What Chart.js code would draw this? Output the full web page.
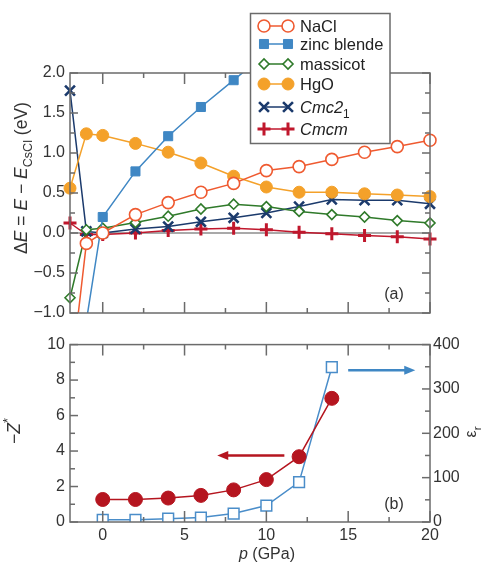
<!DOCTYPE html>
<html>
<head>
<meta charset="utf-8">
<script src="https://cdn.jsdelivr.net/npm/chart.js@4/dist/chart.umd.min.js"></script>
<style>
    body { margin: 0; background: #fff; }
    #wrap { position: relative; width: 486px; height: 562px; background: #fff; }
    canvas { position: absolute; left: 0; }
</style>
</head>
<body>
<div id="wrap">
    <canvas id="chartA" width="486" height="330" style="top:0px"></canvas>
    <canvas id="chartB" width="486" height="232" style="top:330px"></canvas>
</div>
<script>
// panel (a): energy differences vs pressure
var pressureA = [-2, -1, 0, 2, 4, 6, 8, 10, 12, 14, 16, 18, 20];
var nacl      = [-1.9, -0.13, 0.0, 0.23, 0.38, 0.51, 0.62, 0.78, 0.83, 0.92, 1.01, 1.08, 1.16];
var zincBlende = [null, -1.1, 0.2, 0.77, 1.21, 1.575, 1.91, 2.25, null, null, null, null, null];
var massicot  = [-0.81, 0.04, 0.06, 0.13, 0.21, 0.30, 0.36, 0.33, 0.27, 0.23, 0.20, 0.155, 0.125];
var hgo       = [0.56, 1.24, 1.22, 1.12, 1.01, 0.875, 0.71, 0.575, 0.51, 0.51, 0.49, 0.475, 0.455];
var cmc21     = [1.78, 0.02, 0.0, 0.05, 0.08, 0.14, 0.19, 0.25, 0.33, 0.42, 0.41, 0.41, 0.365];
var cmcm      = [0.125, -0.02, -0.02, 0.0, 0.03, 0.05, 0.06, 0.04, 0.01, -0.01, -0.03, -0.046, -0.075];
var yTicksA = [-1, -0.5, 0, 0.5, 1, 1.5, 2];

// panel (b): Born charge and dielectric constant
var pressureB = [0, 2, 4, 6, 8, 10, 12, 14];
var zStar = [1.27, 1.27, 1.35, 1.5, 1.81, 2.39, 3.68, 6.97];
var epsR  = [5, 5, 7.5, 10, 19, 37, 90, 349];
var yTicksB = [0, 2, 4, 6, 8, 10];
var y2TicksB = [0, 100, 200, 300, 400];
var xTicks = [0, 5, 10, 15, 20];
// arrows: [x from, x to, y]
var arrowZ = [11.1, 7.0, 3.75];
var arrowEps = [15.0, 19.1, 342];

var FONT = '"Liberation Sans", Arial, Helvetica, sans-serif';
Chart.defaults.font.family = FONT;
Chart.defaults.font.size = 16;
Chart.defaults.color = '#333';

var FRAME = '#6b6b6b';

function pts(xs, ys) {
    return xs.map(function (x, i) { return { x: x, y: ys[i] }; });
}

function fmt1(v) {
    var s = Math.abs(v).toFixed(1);
    return v < 0 ? '\u2212' + s : s;
}

function setTicks(list) {
    return function (scale) {
        scale.ticks = list.map(function (v) { return { value: v }; });
    };
}

// rich text: parts = [[text, style]], style '', 'i', 'sub', 'sup'
function richDraw(ctx, parts, x, y, size, doDraw) {
    var cx = x;
    parts.forEach(function (p) {
        var st = p[1];
        var sz = size, dy = 0, it = '';
        if (st.indexOf('sub') >= 0) { sz = size * 0.72; dy = size * 0.3; }
        if (st.indexOf('sup') >= 0) { sz = size * 0.72; dy = -size * 0.45; }
        if (st.indexOf('i') === 0) it = 'italic ';
        ctx.font = it + sz + 'px ' + FONT;
        if (doDraw) ctx.fillText(p[0], cx, y + dy);
        cx += ctx.measureText(p[0]).width;
    });
    return cx - x;
}

function richCentered(ctx, parts, x, y, size, rot) {
    ctx.save();
    ctx.translate(x, y);
    if (rot) ctx.rotate(rot);
    ctx.textAlign = 'left';
    ctx.textBaseline = 'alphabetic';
    var w = richDraw(ctx, parts, 0, 0, size, false);
    richDraw(ctx, parts, -w / 2, 0, size, true);
    ctx.restore();
}

function tickMarks(ctx, area, scale, values, len, horizontal, sides) {
    values.forEach(function (v) {
        var p = scale.getPixelForValue(v);
        ctx.beginPath();
        if (horizontal) {
            if (sides.indexOf('b') >= 0) { ctx.moveTo(p, area.bottom); ctx.lineTo(p, area.bottom - len); }
            if (sides.indexOf('t') >= 0) { ctx.moveTo(p, area.top); ctx.lineTo(p, area.top + len); }
        } else {
            if (sides.indexOf('l') >= 0) { ctx.moveTo(area.left, p); ctx.lineTo(area.left + len, p); }
            if (sides.indexOf('r') >= 0) { ctx.moveTo(area.right, p); ctx.lineTo(area.right - len, p); }
        }
        ctx.stroke();
    });
}

function drawFrame(chart, minorX) {
    var ctx = chart.ctx, a = chart.chartArea;
    ctx.save();
    ctx.strokeStyle = FRAME;
    ctx.lineWidth = 1.5;
    ctx.strokeRect(a.left, a.top, a.right - a.left, a.bottom - a.top);
    tickMarks(ctx, a, chart.scales.x, xTicks, 11, true, 'tb');
    tickMarks(ctx, a, chart.scales.x, minorX, 5, true, 'tb');
    ctx.restore();
}

function arrow(ctx, x1, x2, y, color) {
    var dir = x2 > x1 ? 1 : -1;
    ctx.save();
    ctx.strokeStyle = color;
    ctx.fillStyle = color;
    ctx.lineWidth = 2.5;
    ctx.beginPath();
    ctx.moveTo(x1, y);
    ctx.lineTo(x2 - dir * 8, y);
    ctx.stroke();
    ctx.beginPath();
    ctx.moveTo(x2, y);
    ctx.lineTo(x2 - dir * 11, y - 4.5);
    ctx.lineTo(x2 - dir * 11, y + 4.5);
    ctx.closePath();
    ctx.fill();
    ctx.restore();
}

var panelA = {
    id: 'panelA',
    beforeDatasetsDraw: function (chart) {
        var ctx = chart.ctx, a = chart.chartArea;
        var y0 = chart.scales.y.getPixelForValue(0);
        ctx.save();
        ctx.strokeStyle = '#8c8c8c';
        ctx.lineWidth = 1.5;
        ctx.beginPath();
        ctx.moveTo(a.left, y0);
        ctx.lineTo(a.right, y0);
        ctx.stroke();
        ctx.restore();
    },
    afterDraw: function (chart) {
        var ctx = chart.ctx, a = chart.chartArea;
        drawFrame(chart, [2.5, 7.5, 12.5, 17.5]);
        ctx.save();
        ctx.strokeStyle = FRAME;
        ctx.lineWidth = 1.5;
        tickMarks(ctx, a, chart.scales.y, yTicksA, 8, false, 'lr');
        tickMarks(ctx, a, chart.scales.y, [-0.75, -0.25, 0.25, 0.75, 1.25, 1.75], 5, false, 'lr');
        ctx.restore();

        ctx.fillStyle = '#333';
        richCentered(ctx, [['\u0394', ''], ['E', 'i'], [' = ', ''], ['E', 'i'], [' \u2212 ', ''],
            ['E', 'i'], ['CsCl', 'sub'], [' (eV)', '']], 27, 178, 17.5, -Math.PI / 2);
        richCentered(ctx, [['(a)', '']], 394, 299, 16, 0);

        // legend box
        var lx = 250.5, ly = 13.5, lw = 139.5, lh = 130;
        ctx.save();
        ctx.fillStyle = '#fff';
        ctx.fillRect(lx, ly, lw, lh);
        ctx.strokeStyle = FRAME;
        ctx.lineWidth = 1.5;
        ctx.strokeRect(lx, ly, lw, lh);
        var rows = [26, 44, 64, 84, 107, 129];
        chart.data.datasets.forEach(function (ds, i) {
            var y = rows[i];
            ctx.strokeStyle = ds.borderColor;
            ctx.lineWidth = ds.borderWidth;
            ctx.beginPath();
            ctx.moveTo(264, y);
            ctx.lineTo(288, y);
            ctx.stroke();
            [264, 288].forEach(function (mx) {
                ctx.fillStyle = ds.pointBackgroundColor;
                ctx.strokeStyle = ds.borderColor;
                ctx.lineWidth = ds.pointBorderWidth;
                Chart.helpers.drawPoint(ctx, {
                    pointStyle: ds.pointStyle, rotation: 0,
                    radius: ds.pointRadius, borderWidth: ds.pointBorderWidth
                }, mx, y);
            });
            ctx.fillStyle = '#222';
            ctx.textBaseline = 'alphabetic';
            ctx.textAlign = 'left';
            var parts = ds.richLabel || [[ds.label, '']];
            richDraw(ctx, parts, 300, y + 6, 16.5, true);
        });
        ctx.restore();
    }
};

var panelB = {
    id: 'panelB',
    afterDraw: function (chart) {
        var ctx = chart.ctx, a = chart.chartArea;
        drawFrame(chart, [2.5, 7.5, 12.5, 17.5]);
        ctx.save();
        ctx.strokeStyle = FRAME;
        ctx.lineWidth = 1.5;
        tickMarks(ctx, a, chart.scales.y, yTicksB, 8, false, 'l');
        tickMarks(ctx, a, chart.scales.y, [1, 3, 5, 7, 9], 5, false, 'l');
        tickMarks(ctx, a, chart.scales.y2, y2TicksB, 8, false, 'r');
        tickMarks(ctx, a, chart.scales.y2, [50, 150, 250, 350], 5, false, 'r');
        ctx.restore();

        var sx = chart.scales.x, sy = chart.scales.y, sy2 = chart.scales.y2;
        arrow(ctx, sx.getPixelForValue(arrowZ[0]), sx.getPixelForValue(arrowZ[1]),
            sy.getPixelForValue(arrowZ[2]), '#b5151f');
        arrow(ctx, sx.getPixelForValue(arrowEps[0]), sx.getPixelForValue(arrowEps[1]),
            sy2.getPixelForValue(arrowEps[2]), '#3f87c4');

        ctx.fillStyle = '#333';
        richCentered(ctx, [['\u2212', ''], ['Z', 'i'], ['*', 'sup']], 20, 101, 17.5, -Math.PI / 2);
        richCentered(ctx, [['\u03b5', ''], ['r', 'sub']], 476, 102, 16, -Math.PI / 2);
        richCentered(ctx, [['p', 'i'], [' (GPa)', '']], 267, 229, 16, 0);
        richCentered(ctx, [['(b)', '']], 394, 179, 16, 0);
    }
};

var ctxA = document.getElementById('chartA').getContext('2d');
var chartA = new Chart(ctxA, {
    type: 'line',
    data: {
        datasets: [{
            label: 'NaCl',
            data: pts(pressureA, nacl),
            borderColor: '#ef5a30', pointBackgroundColor: '#fff',
            borderWidth: 1.5, pointBorderWidth: 1.6,
            pointStyle: 'circle', pointRadius: 6
        }, {
            label: 'zinc blende',
            data: pts(pressureA, zincBlende),
            borderColor: '#3f87c4', pointBackgroundColor: '#3f87c4',
            borderWidth: 1.5, pointBorderWidth: 1,
            pointStyle: 'rect', pointRadius: 6.4
        }, {
            label: 'massicot',
            data: pts(pressureA, massicot),
            borderColor: '#2f7a2a', pointBackgroundColor: '#fff',
            borderWidth: 1.5, pointBorderWidth: 1.6,
            pointStyle: 'rectRot', pointRadius: 5
        }, {
            label: 'HgO',
            data: pts(pressureA, hgo),
            borderColor: '#f4a12a', pointBackgroundColor: '#f4a12a',
            borderWidth: 1.5, pointBorderWidth: 1,
            pointStyle: 'circle', pointRadius: 6
        }, {
            label: 'Cmc21',
            richLabel: [['Cmc2', 'i'], ['1', 'sub']],
            data: pts(pressureA, cmc21),
            borderColor: '#1b3a6c', pointBackgroundColor: '#1b3a6c',
            borderWidth: 1.5, pointBorderWidth: 2.6,
            pointStyle: 'crossRot', pointRadius: 7
        }, {
            label: 'Cmcm',
            richLabel: [['Cmcm', 'i']],
            data: pts(pressureA, cmcm),
            borderColor: '#c0172c', pointBackgroundColor: '#c0172c',
            borderWidth: 1.5, pointBorderWidth: 3,
            pointStyle: 'cross', pointRadius: 6.5
        }].map(function (ds) {
            ds.clip = { left: 20, right: 20, top: 0, bottom: 0 };
            ds.fill = false;
            ds.pointHoverRadius = ds.pointRadius;
            return ds;
        })
    },
    options: {
        responsive: false,
        animation: false,
        layout: { padding: { top: 73, right: 56, bottom: 17, left: 0 } },
        plugins: { legend: { display: false }, tooltip: { enabled: false } },
        scales: {
            x: { type: 'linear', min: -2, max: 20, display: false },
            y: {
                min: -1, max: 2,
                grid: { display: false, drawTicks: false },
                border: { display: false },
                ticks: { padding: 5, callback: fmt1, color: '#333' },
                afterBuildTicks: setTicks(yTicksA),
                afterFit: function (s) { s.width = 70; }
            }
        }
    },
    plugins: [panelA]
});

var ctxB = document.getElementById('chartB').getContext('2d');
var chartB = new Chart(ctxB, {
    type: 'line',
    data: {
        datasets: [{
            label: '-Z*',
            data: pts(pressureB, zStar),
            yAxisID: 'y',
            borderColor: '#b5151f', pointBackgroundColor: '#b5151f',
            borderWidth: 1.5, pointBorderWidth: 1,
            pointStyle: 'circle', pointRadius: 7
        }, {
            label: 'eps_r',
            data: pts(pressureB, epsR),
            yAxisID: 'y2',
            borderColor: '#4a8dc9', pointBackgroundColor: '#fff',
            borderWidth: 1.5, pointBorderWidth: 1.5,
            pointStyle: 'rect', pointRadius: 7.6
        }]
    },
    options: {
        responsive: false,
        animation: false,
        layout: { padding: { top: 13, right: 0, bottom: 0, left: 0 } },
        plugins: { legend: { display: false }, tooltip: { enabled: false } },
        scales: {
            x: {
                type: 'linear', min: -2, max: 20,
                grid: { display: false, drawTicks: false },
                border: { display: false },
                ticks: { padding: 4, maxRotation: 0, color: '#333' },
                afterBuildTicks: setTicks(xTicks),
                afterFit: function (s) { s.height = 40; }
            },
            y: {
                position: 'left', min: 0, max: 10,
                grid: { display: false, drawTicks: false },
                border: { display: false },
                ticks: { padding: 5, color: '#333' },
                afterBuildTicks: setTicks(yTicksB),
                afterFit: function (s) { s.width = 70; }
            },
            y2: {
                position: 'right', min: 0, max: 400,
                grid: { display: false, drawTicks: false },
                border: { display: false },
                ticks: { padding: 3, color: '#333' },
                afterBuildTicks: setTicks(y2TicksB),
                afterFit: function (s) { s.width = 56; }
            }
        }
    },
    plugins: [panelB]
});
</script>
</body>
</html>
